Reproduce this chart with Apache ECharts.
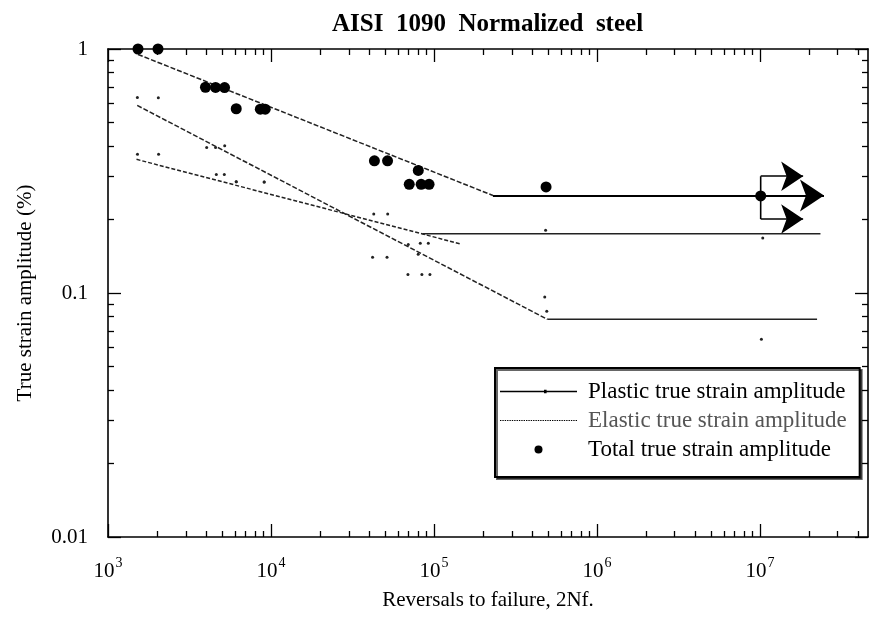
<!DOCTYPE html>
<html><head><meta charset="utf-8">
<script src="https://cdn.jsdelivr.net/npm/echarts@6/dist/echarts.min.js"></script>
<style>html,body{margin:0;padding:0;background:#fff}#c{width:871px;height:623px}</style>
</head><body><div id="c"></div><script>
// ---- text ----
const titleText = 'AISI  1090  Normalized  steel';
const xName = 'Reversals to failure, 2Nf.';
const yName = 'True strain amplitude (%)';
const legendNames = ['Plastic true strain amplitude', 'Elastic true strain amplitude', 'Total true strain amplitude'];
// ---- tick labels ----
const xTickLabels = [1e3, 1e4, 1e5, 1e6, 1e7];
const yTickLabels = [0.01, 0.1, 1];
const minorMultipliers = [2, 3, 4, 5, 6, 7, 8, 9];
// ---- data (reversals, strain %) ----
const totalPoints = [[1528,1.0],[2027,1.0],[3963,0.697],[4570,0.696],[5190,0.695],[6120,0.569],[8600,0.567],[9220,0.567],
  [43100,0.348],[51900,0.348],[80100,0.318],[70500,0.279],[83400,0.279],[93300,0.279],[487000,0.272],[10100000,0.25]];
const plasticPoints = [[1514,0.633],[2036,0.632],[4030,0.395],[4570,0.395],[5200,0.401],[6120,0.286],[9080,0.285],
  [42000,0.140],[51500,0.140],[80000,0.144],[69200,0.119],[84300,0.119],[94400,0.119],[478000,0.0962],[492000,0.0842],[10200000,0.0647]];
const elasticPoints = [[1517,0.370],[2043,0.370],[4620,0.306],[5170,0.306],[6120,0.286],[9080,0.285],
  [42700,0.211],[52000,0.211],[69500,0.158],[82400,0.160],[92300,0.160],[484000,0.181],[10400000,0.168]];
const totalFit = [[1528,0.95],[230000,0.251]];
const totalRunout = [[230000,0.251],[24700000,0.251]];
const plasticFit = [[1511,0.587],[496000,0.078]];
const plasticRunout = [[496000,0.078],[22400000,0.078]];
const elasticFit = [[1496,0.353],[145000,0.159]];
const elasticRunout = [[84900,0.175],[23500000,0.175]];
const runoutBar = [[10100000,0.301],[10100000,0.201]];
const runoutArrows = [[[10100000,0.301],[18400000,0.301]],[[10100000,0.201],[18400000,0.201]]];

const X_MIN = 1e3, X_MAX = 4.6e7, Y_MIN = 0.01, Y_MAX = 1;
const FONT = "'Liberation Serif','Times New Roman',serif";

function minorOf(majors, lastMax) {
  const out = [];
  majors.forEach(m => minorMultipliers.forEach(k => { const v = m * k; if (v < lastMax) out.push(v); }));
  return out;
}
const xMinor = minorOf(xTickLabels, X_MAX);
const yMinor = minorOf(yTickLabels.slice(0, 2), Y_MAX);

const axisLineStyle = { show: true, lineStyle: { color: '#000', width: 1.6 } };
function xAxisDef(pos, major, withLabel) {
  return {
    type: 'log', logBase: 10, min: X_MIN, max: X_MAX, position: pos,
    axisLine: major ? axisLineStyle : { show: false },
    splitLine: { show: false },
    axisTick: { show: true, inside: true, length: major ? 13 : 6, lineStyle: { color: '#000', width: 1.3 },
      customValues: major ? xTickLabels : xMinor },
    axisLabel: withLabel ? {
      show: true, customValues: xTickLabels, margin: 19, fontFamily: FONT,
      formatter: v => '{b|10}{s|' + Math.round(Math.log10(v)) + '}',
      rich: { b: { fontSize: 21, fontFamily: FONT, color: '#000', lineHeight: 26, verticalAlign: 'bottom' },
              s: { fontSize: 14, fontFamily: FONT, color: '#000', lineHeight: 26, verticalAlign: 'top', padding: [0,0,8,1] } }
    } : { show: false },
    name: withLabel ? xName : '', nameLocation: 'middle', nameGap: 53,
    nameTextStyle: { fontSize: 21, fontFamily: FONT, color: '#000' }
  };
}
function yAxisDef(pos, major, withLabel) {
  return {
    type: 'log', logBase: 10, min: Y_MIN, max: Y_MAX, position: pos,
    axisLine: major ? axisLineStyle : { show: false },
    splitLine: { show: false },
    axisTick: { show: true, inside: true, length: major ? 13 : 6, lineStyle: { color: '#000', width: 1.3 },
      customValues: major ? yTickLabels : yMinor },
    axisLabel: withLabel ? {
      show: true, customValues: yTickLabels, margin: 20, fontSize: 21, fontFamily: FONT, color: '#000',
      formatter: v => String(v)
    } : { show: false },
    name: withLabel ? yName : '', nameLocation: 'middle', nameGap: 72, nameRotate: 90,
    nameTextStyle: { fontSize: 21, fontFamily: FONT, color: '#000' }
  };
}

const dottedIcon = (() => { let p = 'path://'; for (let x = 0; x < 77; x += 2.4) p += 'M' + x.toFixed(1) + ',2.5h1.4v1.2h-1.4z'; return p; })();
const plasticIcon = 'path://M0,2.4h77v1.3h-77z M44,1.3h2.6v3.5h-2.6z';

const chart = echarts.init(document.getElementById('c'));
chart.setOption({
  backgroundColor: '#fff',
  animation: false,
  title: { text: titleText, left: 327, top: 7,
    textStyle: { fontSize: 25, fontWeight: 'bold', fontFamily: FONT, color: '#000' } },
  grid: { left: 108, right: 3, top: 49, bottom: 86, containLabel: false },
  xAxis: [xAxisDef('bottom', true, true), xAxisDef('bottom', false, false), xAxisDef('top', true, false), xAxisDef('top', false, false)],
  yAxis: [yAxisDef('left', true, true), yAxisDef('left', false, false), yAxisDef('right', true, false), yAxisDef('right', false, false)],
  legend: {
    left: 495, top: 368, orient: 'vertical',
    data: [
      { name: legendNames[0], icon: plasticIcon },
      { name: legendNames[1], icon: dottedIcon, textStyle: { color: '#555' } },
      { name: legendNames[2], icon: 'circle' }
    ],
    itemWidth: 77, itemHeight: 8, itemGap: 6,
    padding: [12, 13, 16, 5],
    backgroundColor: '#fff', borderColor: '#000', borderWidth: 2,
    shadowColor: 'rgba(0,0,0,0.6)', shadowOffsetX: 2, shadowOffsetY: 2, shadowBlur: 0,
    textStyle: { fontSize: 23, fontFamily: FONT, color: '#000', padding: [0, 0, 0, 6], lineHeight: 23 },
    itemStyle: { color: '#000' }
  },
  series: [
    { name: legendNames[0], type: 'line', data: plasticFit, showSymbol: false, symbol: 'none',
      lineStyle: { color: '#222', width: 1.5, type: [5, 2] }, itemStyle: { color: '#000' } },
    { name: 'plastic-runout', type: 'line', data: plasticRunout, symbol: 'none', lineStyle: { color: '#222', width: 1.5 } },
    { name: 'plastic-points', type: 'scatter', data: plasticPoints, symbol: 'circle', symbolSize: 3, itemStyle: { color: '#222', opacity: 1 } },
    { name: legendNames[1], type: 'line', data: elasticFit, showSymbol: false, symbol: 'none',
      lineStyle: { color: '#222', width: 1.5, type: [4, 2] }, itemStyle: { color: '#000' } },
    { name: 'elastic-runout', type: 'line', data: elasticRunout, symbol: 'none', lineStyle: { color: '#222', width: 1.5 } },
    { name: 'elastic-points', type: 'scatter', data: elasticPoints, symbol: 'circle', symbolSize: 3, itemStyle: { color: '#222', opacity: 1 } },
    { name: 'total-fit', type: 'line', data: totalFit, symbol: 'none', lineStyle: { color: '#222', width: 1.5, type: [5, 2] } },
    { name: 'total-runout', type: 'lines', coordinateSystem: 'cartesian2d', polyline: false,
      data: [{ coords: totalRunout }], symbol: ['none', 'arrow'], symbolSize: [20, 24],
      lineStyle: { color: '#000', width: 2, opacity: 1, curveness: 0 }, silent: true },
    { name: 'runout-bar', type: 'line', data: runoutBar, symbol: 'none', lineStyle: { color: '#000', width: 1.6 } },
    { name: 'runout-arrows', type: 'lines', coordinateSystem: 'cartesian2d',
      data: runoutArrows.map(c => ({ coords: c })), symbol: ['none', 'arrow'], symbolSize: [16, 22],
      lineStyle: { color: '#000', width: 1.6, opacity: 1, curveness: 0 }, silent: true },
    { name: legendNames[2], type: 'scatter', data: totalPoints, symbol: 'circle', symbolSize: 11, itemStyle: { color: '#000', opacity: 1 }, z: 5 }
  ]
});
</script></body></html>
